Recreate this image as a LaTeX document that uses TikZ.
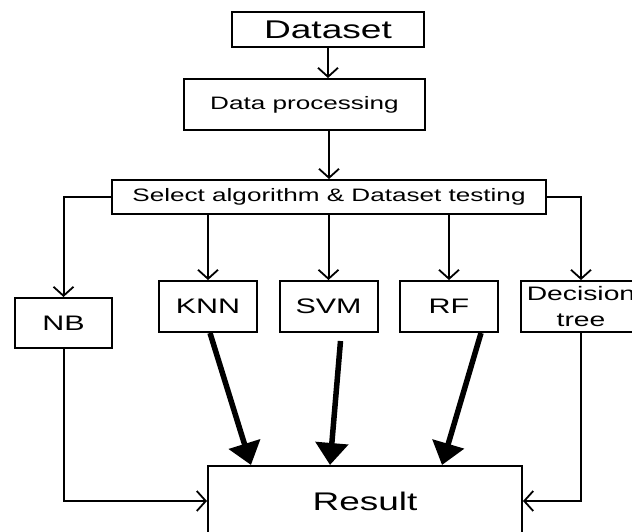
\documentclass[tikz,border=0pt]{standalone}
\usepackage{fontspec}
\setmainfont{Liberation Sans}
\usetikzlibrary{arrows.meta}
% letters in this chart are drawn wide
\newcommand{\wide}[1]{\scalebox{1.45}[1]{#1}}

\begin{document}
\begin{tikzpicture}[x=1pt, y=-1pt, line width=2pt,
        box/.style={draw, rectangle, inner sep=0pt},
        flow/.style={-{Straight Barb[length=9pt, width=20pt, line width=1.8pt]}},
        bold/.style={line width=5.5pt, -{Triangle[length=22pt, width=32pt]}}]
    \useasboundingbox (0,0) rectangle (632,531);
    \clip (0,0) rectangle (632,531);
    \fill[white] (0,0) rectangle (632,531);

    % main column
    \node[box, minimum width=192pt, minimum height=35pt, font=\fontsize{25.6}{30}\selectfont] (dataset) at (328,29.5) {\wide{Dataset}};
    \node[box, minimum width=241pt, minimum height=51pt, font=\fontsize{18}{22}\selectfont] (process) at (304.5,104.5) {\wide{Data processing}};
    \node[box, minimum width=434pt, minimum height=34pt, font=\fontsize{18}{22}\selectfont] (select) at (329,197) {\wide{Select algorithm \& Dataset testing}};

    % the five classifiers
    \begin{scope}[every node/.style={box, minimum width=98pt, minimum height=51pt, font=\fontsize{21}{26}\selectfont}]
        \node[minimum width=97pt, minimum height=50pt] (nb) at (63.5,323) {\wide{NB}};
        \node (knn) at (208,306.5) {\wide{KNN}};
        \node (svm) at (328.5,306.5) {\wide{SVM}};
        \node (rf) at (449,306.5) {\wide{RF}};
        \node[minimum width=120pt, align=center, font=\fontsize{19.5}{26}\selectfont] (dt) at (581,306.5) {\wide{Decision}\\\wide{tree}};
    \end{scope}

    \node[box, minimum width=314pt, minimum height=70pt, font=\fontsize{25.5}{30}\selectfont] (result) at (365,501) {\wide{Result}};

    \draw[flow] (dataset.south) -- (dataset.south |- process.north);
    \draw[flow] (process.south -| select.north) -- (select.north);
    \foreach \m in {knn,svm,rf}
        \draw[flow] (select.south -| \m.north) -- (\m.north);
    \draw[flow] (select.west) -| (nb.north);
    \draw[flow] (select.east) -| (dt.north);
    \draw[flow] (nb.south) |- (result.west);
    \draw[flow] (dt.south) |- (result.east);

    % heavy arrows into the result
    \draw[bold] ([xshift=2pt]knn.south) -- ([xshift=44pt]result.north west);
    \draw[bold] ([xshift=12pt, yshift=-8pt]svm.south) -- ([xshift=123pt]result.north west);
    \draw[bold] ([xshift=32pt]rf.south) -- ([xshift=235pt]result.north west);
\end{tikzpicture}
\end{document}
